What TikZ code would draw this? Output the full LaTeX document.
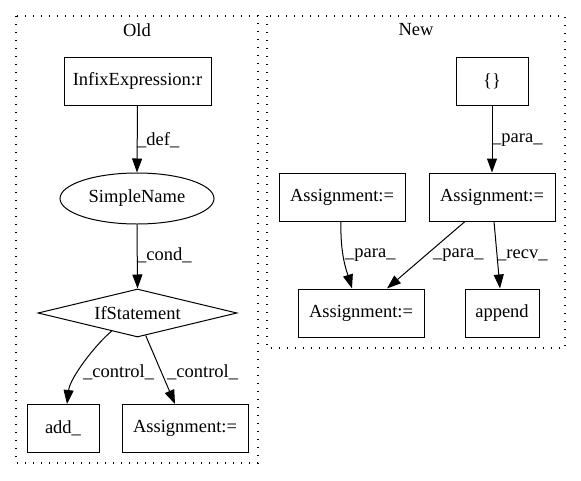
\documentclass[tikz,border=0pt]{standalone}
\usepackage{fontspec}
\setmainfont{Liberation Serif}
\usetikzlibrary{arrows.meta,shapes.geometric,calc}
\begin{document}
\begin{tikzpicture}[x=1pt,y=-1pt,
  every node/.style={font=\fontsize{18.5}{22}\selectfont},
  box/.style={draw,line width=1pt,rectangle,inner sep=0pt,minimum height=48pt},
  cluster/.style={line width=1.2pt,dash pattern=on 1.4pt off 6.6pt},
  edge/.style={line width=1pt,-{Triangle[length=14pt,width=10pt]}},
  lbl/.style={anchor=west,inner sep=0pt}]
\useasboundingbox (0,0) rectangle (581,480);
% clusters
\draw[cluster] (16,16) rectangle (258,463);
\draw[cluster] (267,16) rectangle (565,348);
\node (told) at (137,30) {Old};
\node (tnew) at (416,30) {New};
% Old nodes
\node[box,minimum width=147pt] (inf) at (137.5,81) {InfixExpression:r};
\node[draw,line width=1pt,ellipse,inner sep=0pt,minimum width=154pt,minimum height=51pt] (sn) at (137,198.5) {SimpleName};
\node[draw,line width=1pt,diamond,aspect=4.15,inner sep=0pt,minimum width=199pt,minimum height=48pt] (ifs) at (137.5,313) {IfStatement};
\node[box,minimum width=72pt] (add) at (63,428.5) {add\_};
\node[box,minimum width=126pt] (aso) at (185,428.5) {Assignment:=};
% New nodes
\node[box,minimum width=72pt] (br) at (492,81) {\{\}};
\node[box,minimum width=126pt] (ar) at (492,197) {Assignment:=};
\node[box,minimum width=126pt] (al) at (342,197) {Assignment:=};
\node[box,minimum width=126pt] (ab) at (361,313) {Assignment:=};
\node[box,minimum width=74pt] (app) at (502,313) {append};
% Old edges
\draw[edge] (inf.south) -- (sn.north);
\node[lbl] (l1) at (137,140) {\_def\_};
\draw[edge] (sn.south) -- (ifs.north);
\node[lbl] (l2) at (137,255) {\_cond\_};
\draw[edge] (ifs.215) .. controls (95,345) and (70,378) .. ([xshift=4pt]add.north);
\node[lbl] (l3) at (83,372) {\_control\_};
\draw[edge] (ifs.-70) -- ([xshift=-10pt]aso.north);
\node[lbl] (l4) at (167,372) {\_control\_};
% New edges
\draw[edge] (br.south) -- (ar.north);
\node[lbl] (l5) at (492,140) {\_para\_};
\draw[edge] ([xshift=-1pt]al.south) .. controls (340,255) and (347,272) .. ([xshift=-9pt]ab.north);
\node[lbl] (l6) at (345,255) {\_para\_};
\draw[edge] ([xshift=-27pt]ar.south) -- ([xshift=26pt]ab.north);
\node[lbl] (l7) at (433,255) {\_para\_};
\draw[edge] ([xshift=2pt]ar.south) -- ([xshift=-2pt]app.north);
\node[lbl] (l8) at (497,255) {\_recv\_};
\end{tikzpicture}
\end{document}
